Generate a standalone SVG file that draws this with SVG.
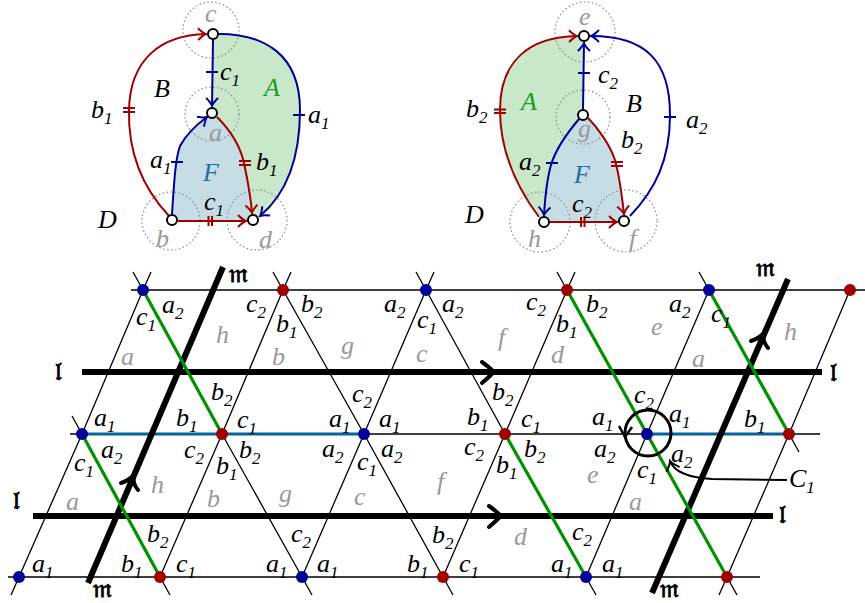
<svg xmlns="http://www.w3.org/2000/svg" width="865" height="603" viewBox="0 0 865 603">
<defs>
<style>
text{font-family:"Liberation Serif","DejaVu Serif",serif;font-style:italic;font-size:26px;fill:#000}
.s{font-size:17px}
.gr{fill:#999}
.fr{font-family:"DejaVu Serif","DejaVu Sans","Noto Sans",serif;font-style:normal;font-weight:bold;font-size:25px}
.thin{fill:none;stroke:#000;stroke-width:1.3}
.grn{fill:none;stroke:#009200;stroke-width:3.2}
.blu{fill:none;stroke:#00659b;stroke-width:3.2}
.thick{fill:none;stroke:#000;stroke-width:6}
.chev{fill:none;stroke:#000;stroke-width:4;stroke-linecap:round}
.dot{fill:none;stroke:#888;stroke-width:1.2;stroke-dasharray:1.5 2.5}
.er{fill:none;stroke:#a00000;stroke-width:2}
.eb{fill:none;stroke:#000099;stroke-width:2}
.tr{fill:none;stroke:#a00000;stroke-width:2}
.tb{fill:none;stroke:#000099;stroke-width:2}
.nd{fill:#fff;stroke:#000;stroke-width:2}
.bd{fill:#000099}
.rd{fill:#a00000}
.fa{fill:#1f9a1f}
.ff{fill:#1f6fa0}
</style>
<marker id="ar" viewBox="-10 -8 12 16" markerWidth="12" markerHeight="16" refX="0" refY="0" orient="auto" markerUnits="userSpaceOnUse">
<path d="M-8,-6 Q-3,-1 0,0 Q-3,1 -8,6" fill="none" stroke="#a00000" stroke-width="2"/>
</marker>
<marker id="ab" viewBox="-10 -8 12 16" markerWidth="12" markerHeight="16" refX="0" refY="0" orient="auto" markerUnits="userSpaceOnUse">
<path d="M-8,-6 Q-3,-1 0,0 Q-3,1 -8,6" fill="none" stroke="#000099" stroke-width="2"/>
</marker>
<marker id="ak" viewBox="-12 -9 14 18" markerWidth="14" markerHeight="18" refX="0" refY="0" orient="auto" markerUnits="userSpaceOnUse">
<path d="M-9,-7 Q-3,-1 0,0 Q-3,1 -9,7" fill="none" stroke="#000" stroke-width="2"/>
</marker>
</defs>

<!-- ===== Left top diagram ===== -->
<g id="left-faces">
<path d="M213,34 C265,34 300,55 300,110 C300,160 285,195 253,220 C251,200 248,182 244,163 C240,145 228,128 212,113 Z" fill="#c9e8c9"/>
<path d="M172,220 C174,185 175,160 180,146 C186,135 196,125 212,113 C228,128 240,145 244,163 C248,182 251,200 253,220 Z" fill="#c6dde6"/>
</g>
<g id="left-circles">
<circle class="dot" cx="211" cy="30" r="28"/>
<circle class="dot" cx="212" cy="114" r="27"/>
<circle class="dot" cx="171" cy="221" r="29"/>
<circle class="dot" cx="257" cy="220" r="30"/>
</g>
<g id="left-edges">
<path class="er" d="M169,216 C140,185 128,150 129,110 C130,60 160,35 206,34" marker-end="url(#ar)"/>
<path class="tr" d="M123,108 H135 M123,112 H135"/>
<path class="eb" d="M213,40 L212,106" marker-end="url(#ab)"/>
<path class="tb" d="M206,72 H218"/>
<path class="eb" d="M219,34 C265,34 300,55 300,110 C300,160 285,195 260,216" marker-end="url(#ab)"/>
<path class="tb" d="M293,115 H305"/>
<path class="eb" d="M172,214 C174,185 175,160 180,146 C186,135 196,125 207,117" marker-end="url(#ab)"/>
<path class="tb" d="M171,162 H183"/>
<path class="er" d="M217,117 C228,128 240,145 244,163 C248,182 251,200 252,213" marker-end="url(#ar)"/>
<path class="tr" d="M239,161 H251 M239,165 H251"/>
<path class="er" d="M178,221 L246,221" marker-end="url(#ar)"/>
<path class="tr" d="M208.5,216 V226 M212,216 V226"/>
</g>
<g id="node-c"><circle class="nd" cx="213" cy="34" r="5"/><text class="gr" x="205" y="22">c</text></g>
<g id="node-a"><circle class="nd" cx="212" cy="113" r="5"/><text class="gr" x="209" y="141">a</text></g>
<g id="node-b"><circle class="nd" cx="172" cy="220" r="5"/><text class="gr" x="156" y="247">b</text></g>
<g id="node-d"><circle class="nd" cx="253" cy="220" r="5"/><text class="gr" x="259" y="248">d</text></g>
<g id="left-labels">
<text x="154" y="97">B</text>
<text class="fa" x="264" y="96">A</text>
<text class="ff" x="203" y="181">F</text>
<text x="98" y="228">D</text>
<text x="91" y="118">b<tspan class="s" dy="6">1</tspan></text>
<text x="220" y="80">c<tspan class="s" dy="6">1</tspan></text>
<text x="308" y="123">a<tspan class="s" dy="6">1</tspan></text>
<text x="150" y="168">a<tspan class="s" dy="6">1</tspan></text>
<text x="256" y="170">b<tspan class="s" dy="6">1</tspan></text>
<text x="204" y="210">c<tspan class="s" dy="6">1</tspan></text>
</g>

<!-- ===== Right top diagram ===== -->
<g id="right-faces">
<path d="M584,36 C530,38 500,60 500,110 C500,150 515,185 544,222 C545,200 546,182 551,165 C556,148 568,132 583,115 Z" fill="#c9e8c9"/>
<path d="M583,115 C568,132 556,148 551,165 C546,182 545,200 544,222 L624,221 C622,197 620,178 615,160 C610,145 598,128 583,115 Z" fill="#c6dde6"/>
</g>
<g id="right-circles">
<circle class="dot" cx="585" cy="32" r="30"/>
<circle class="dot" cx="583" cy="117" r="27"/>
<circle class="dot" cx="540" cy="222" r="30"/>
<circle class="dot" cx="626" cy="221" r="31"/>
</g>
<g id="right-edges">
<path class="er" d="M539,217 C515,185 500,150 500,110 C500,60 530,37 577,36" marker-end="url(#ar)"/>
<path class="tr" d="M494,109.5 H506 M494,113 H506"/>
<path class="eb" d="M583,109 L584,43" marker-end="url(#ab)"/>
<path class="tb" d="M578,73 H590"/>
<path class="eb" d="M630,216 C655,190 670,160 670,115 C670,60 645,36 591,36" marker-end="url(#ab)"/>
<path class="tb" d="M664,117 H676"/>
<path class="eb" d="M579,119 C568,132 556,148 551,165 C546,182 545,200 544,215" marker-end="url(#ab)"/>
<path class="tb" d="M546,163 H558"/>
<path class="er" d="M588,118 C598,128 610,145 615,160 C620,178 622,197 624,214" marker-end="url(#ar)"/>
<path class="tr" d="M611,162 H623 M611,166 H623"/>
<path class="er" d="M550,222 L617,222" marker-end="url(#ar)"/>
<path class="tr" d="M581,217 V227 M584.5,217 V227"/>
</g>
<g id="node-e"><circle class="nd" cx="584" cy="36" r="5"/><text class="gr" x="579" y="25">e</text></g>
<g id="node-g"><circle class="nd" cx="583" cy="115" r="5"/><text class="gr" x="578" y="137">g</text></g>
<g id="node-h"><circle class="nd" cx="544" cy="222" r="5"/><text class="gr" x="528" y="247">h</text></g>
<g id="node-f"><circle class="nd" cx="624" cy="221" r="5"/><text class="gr" x="629" y="247">f</text></g>
<g id="right-labels">
<text class="fa" x="521" y="110">A</text>
<text x="626" y="112">B</text>
<text class="ff" x="574" y="183">F</text>
<text x="465" y="223">D</text>
<text x="466" y="117">b<tspan class="s" dy="6">2</tspan></text>
<text x="598" y="83">c<tspan class="s" dy="6">2</tspan></text>
<text x="686" y="128">a<tspan class="s" dy="6">2</tspan></text>
<text x="519" y="170">a<tspan class="s" dy="6">2</tspan></text>
<text x="621" y="148">b<tspan class="s" dy="6">2</tspan></text>
<text x="572" y="212">c<tspan class="s" dy="6">2</tspan></text>
</g>

<!-- ===== Lattice ===== -->
<g id="connectors">
<path class="thin" d="M131,290 H865 M70,434 H820 M8,577 H760"/>
<path class="thin" d="M11,595 L19,577 L82,434 L143,290 L151,272"/>
<path class="thin" d="M160,577 L222,434 L283,290 L291,272"/>
<path class="thin" d="M302,577 L364,434 L426,290 L434,272"/>
<path class="thin" d="M443,577 L505,434 L567,290 L575,272"/>
<path class="thin" d="M586,577 L647,434 L709,290"/>
<path class="thin" d="M719,595 L727,577 L789,434 L850,290"/>
<path class="thin" d="M133,272 L143,290 M222,434 L302,577 L312,595"/>
<path class="thin" d="M72,416 L82,434 M160,577 L170,595"/>
<path class="thin" d="M273,272 L283,290 L364,434 L443,577 L453,595"/>
<path class="thin" d="M416,272 L426,290 L505,434 M586,577 L596,595"/>
<path class="thin" d="M557,272 L567,290 M727,577 L737,595"/>
<path class="thin" d="M699,272 L709,290 M789,434 L799,452"/>
<path class="blu" d="M82,434 H364 M647,434 H789"/>
<path class="thick" d="M82,372 H822 M33,516 H773"/>
<path class="thick" d="M88,583 L223,267 M652,593 L788,279"/>
<path class="grn" d="M143,290 L222,434 M82,434 L160,577 M505,434 L586,577 M567,290 L647,434 L727,577 M709,290 L789,434"/>
<path class="chev" d="M482,362 Q489,367 494,372 Q489,377 482,383"/>
<path class="chev" d="M489,506 Q496,511 501,516 Q496,521 489,527"/>
<path class="chev" d="M121,483 Q128,481 134,475 Q132,483 138,490"/>
<path class="chev" d="M751,341 Q758,339 764,333 Q762,341 768,348"/>
<circle cx="648" cy="433" r="23" fill="none" stroke="#000" stroke-width="3"/>
<path d="M619,426 L625,437 L632,427" fill="none" stroke="#000" stroke-width="2.5"/>
<path d="M787,480 L712,479 C690,478 674,472 670,461" fill="none" stroke="#000" stroke-width="2" marker-end="url(#ak)"/>
</g>

<g id="lattice-nodes">
<circle class="bd" cx="143" cy="290" r="6"/><circle class="rd" cx="283" cy="290" r="6"/><circle class="bd" cx="426" cy="290" r="6"/><circle class="rd" cx="567" cy="290" r="6"/><circle class="bd" cx="709" cy="290" r="6"/><circle class="rd" cx="850" cy="290" r="6"/>
<circle class="bd" cx="82" cy="434" r="6"/><circle class="rd" cx="222" cy="434" r="6"/><circle class="bd" cx="364" cy="434" r="6"/><circle class="rd" cx="505" cy="434" r="6"/><circle class="bd" cx="647" cy="434" r="6"/><circle class="rd" cx="789" cy="434" r="6"/>
<circle class="bd" cx="19" cy="577" r="6"/><circle class="rd" cx="160" cy="577" r="6"/><circle class="bd" cx="302" cy="577" r="6"/><circle class="rd" cx="443" cy="577" r="6"/><circle class="bd" cx="586" cy="577" r="6"/><circle class="rd" cx="727" cy="577" r="6"/>
</g>

<g id="lattice-labels">
<text x="162" y="313">a<tspan class="s" dy="6">2</tspan></text>
<text x="136" y="325">c<tspan class="s" dy="6">1</tspan></text>
<text x="246" y="312">c<tspan class="s" dy="6">2</tspan></text>
<text x="301" y="312">b<tspan class="s" dy="6">2</tspan></text>
<text x="276" y="332">b<tspan class="s" dy="6">1</tspan></text>
<text x="384" y="312">a<tspan class="s" dy="6">2</tspan></text>
<text x="442" y="312">a<tspan class="s" dy="6">2</tspan></text>
<text x="417" y="328">c<tspan class="s" dy="6">1</tspan></text>
<text x="526" y="310">c<tspan class="s" dy="6">2</tspan></text>
<text x="586" y="312">b<tspan class="s" dy="6">2</tspan></text>
<text x="556" y="332">b<tspan class="s" dy="6">1</tspan></text>
<text x="669" y="312">a<tspan class="s" dy="6">2</tspan></text>
<text x="711" y="322">c<tspan class="s" dy="6">1</tspan></text>

<text x="211" y="400">b<tspan class="s" dy="6">2</tspan></text>
<text x="94" y="426">a<tspan class="s" dy="6">1</tspan></text>
<text x="176" y="426">b<tspan class="s" dy="6">1</tspan></text>
<text x="237" y="428">c<tspan class="s" dy="6">1</tspan></text>
<text x="352" y="402">c<tspan class="s" dy="6">2</tspan></text>
<text x="329" y="427">a<tspan class="s" dy="6">1</tspan></text>
<text x="379" y="427">a<tspan class="s" dy="6">1</tspan></text>
<text x="492" y="400">b<tspan class="s" dy="6">2</tspan></text>
<text x="467" y="425">b<tspan class="s" dy="6">1</tspan></text>
<text x="521" y="427">c<tspan class="s" dy="6">1</tspan></text>
<text x="634" y="403">c<tspan class="s" dy="6">2</tspan></text>
<text x="592" y="425">a<tspan class="s" dy="6">1</tspan></text>
<text x="669" y="422">a<tspan class="s" dy="6">1</tspan></text>
<text x="744" y="427">b<tspan class="s" dy="6">1</tspan></text>
<text x="101" y="458">a<tspan class="s" dy="6">2</tspan></text>
<text x="74" y="471">c<tspan class="s" dy="6">1</tspan></text>
<text x="184" y="458">c<tspan class="s" dy="6">2</tspan></text>
<text x="239" y="458">b<tspan class="s" dy="6">2</tspan></text>
<text x="216" y="474">b<tspan class="s" dy="6">1</tspan></text>
<text x="322" y="457">a<tspan class="s" dy="6">2</tspan></text>
<text x="381" y="457">a<tspan class="s" dy="6">2</tspan></text>
<text x="357" y="470">c<tspan class="s" dy="6">1</tspan></text>
<text x="464" y="455">c<tspan class="s" dy="6">2</tspan></text>
<text x="524" y="457">b<tspan class="s" dy="6">2</tspan></text>
<text x="496" y="473">b<tspan class="s" dy="6">1</tspan></text>
<text x="594" y="457">a<tspan class="s" dy="6">2</tspan></text>
<text x="637" y="478">c<tspan class="s" dy="6">1</tspan></text>
<text x="671" y="462">a<tspan class="s" dy="6">2</tspan></text>

<text x="147" y="542">b<tspan class="s" dy="6">2</tspan></text>
<text x="32" y="572">a<tspan class="s" dy="6">1</tspan></text>
<text x="121" y="572">b<tspan class="s" dy="6">1</tspan></text>
<text x="176" y="572">c<tspan class="s" dy="6">1</tspan></text>
<text x="266" y="572">a<tspan class="s" dy="6">1</tspan></text>
<text x="291" y="542">c<tspan class="s" dy="6">2</tspan></text>
<text x="317" y="572">a<tspan class="s" dy="6">1</tspan></text>
<text x="432" y="543">b<tspan class="s" dy="6">2</tspan></text>
<text x="407" y="572">b<tspan class="s" dy="6">1</tspan></text>
<text x="459" y="572">c<tspan class="s" dy="6">1</tspan></text>
<text x="551" y="572">a<tspan class="s" dy="6">1</tspan></text>
<text x="572" y="540">c<tspan class="s" dy="6">2</tspan></text>
<text x="602" y="572">a<tspan class="s" dy="6">1</tspan></text>

<text x="789" y="487">C<tspan class="s" dy="6">1</tspan></text>
</g>

<g id="face-labels">
<text class="gr" x="121" y="365">a</text><text class="gr" x="216" y="343">h</text><text class="gr" x="272" y="365">b</text><text class="gr" x="341" y="354">g</text><text class="gr" x="416" y="362">c</text><text class="gr" x="498" y="346">f</text><text class="gr" x="551" y="363">d</text><text class="gr" x="651" y="335">e</text><text class="gr" x="692" y="367">a</text><text class="gr" x="784" y="340">h</text>
<text class="gr" x="66" y="510">a</text><text class="gr" x="151" y="493">h</text><text class="gr" x="207" y="507">b</text><text class="gr" x="279" y="502">g</text><text class="gr" x="354" y="505">c</text><text class="gr" x="437" y="490">f</text><text class="gr" x="514" y="545">d</text><text class="gr" x="587" y="483">e</text><text class="gr" x="629" y="510">a</text>
</g>

<g id="line-labels">
<text class="fr" x="229" y="282">𝔪</text>
<text class="fr" x="756" y="276">𝔪</text>
<text class="fr" x="93" y="597">𝔪</text>
<text class="fr" x="660" y="597">𝔪</text>
<text class="fr" x="55" y="380">𝔩</text>
<text class="fr" x="830" y="381">𝔩</text>
<text class="fr" x="13" y="509">𝔩</text>
<text class="fr" x="779" y="523">𝔩</text>
</g>
</svg>
